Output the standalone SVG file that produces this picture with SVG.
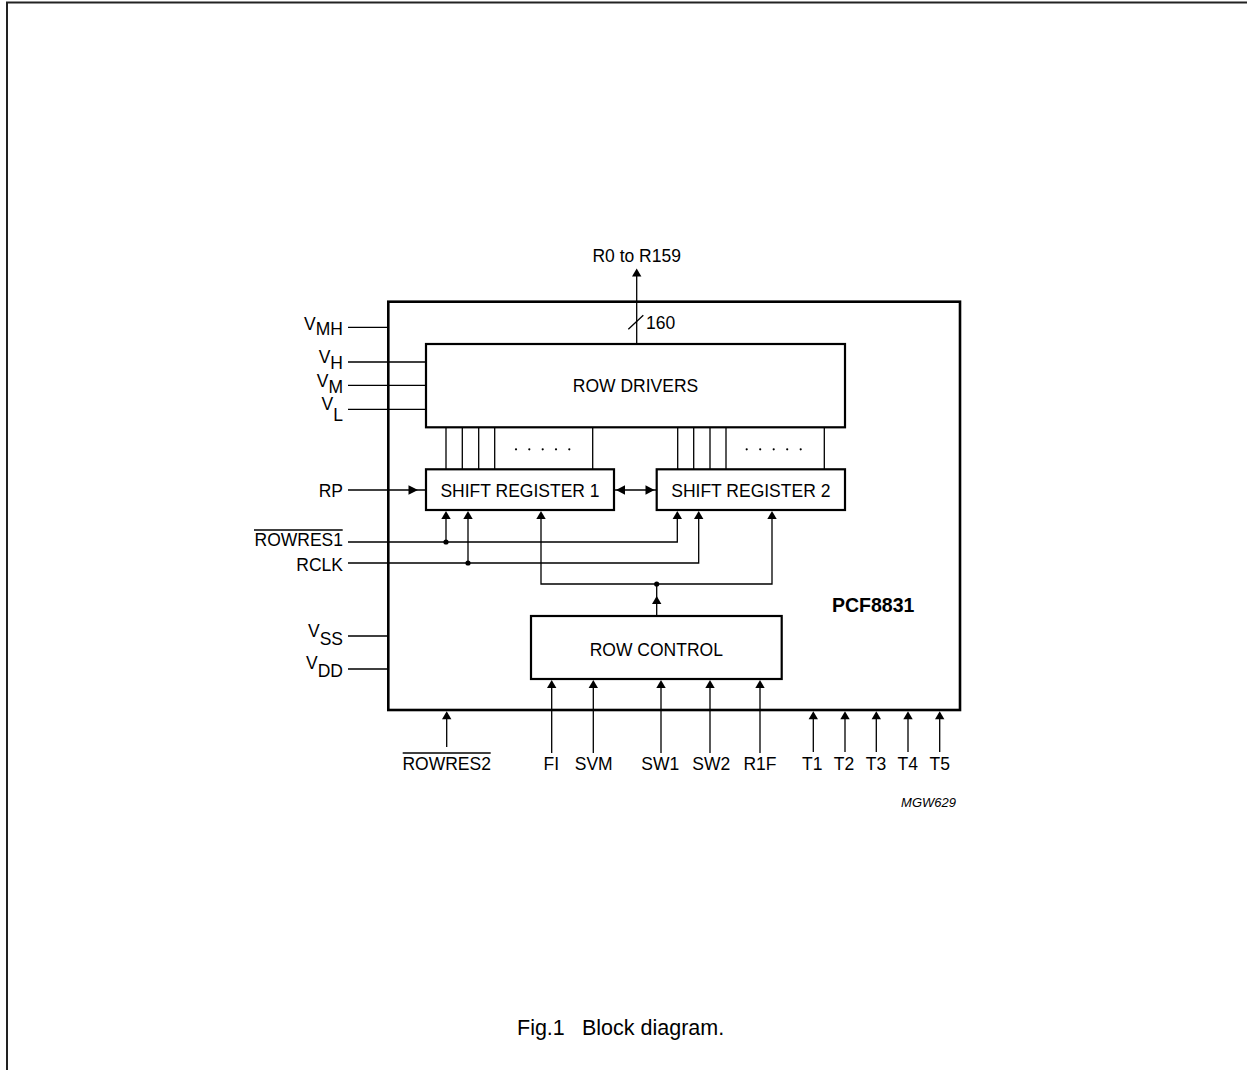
<svg xmlns="http://www.w3.org/2000/svg" width="1247" height="1070" viewBox="0 0 1247 1070">
<style>
text{font-family:"Liberation Sans",Arial,sans-serif;font-size:17.5px;fill:#000}
.box{fill:#fff;stroke:#000;stroke-width:2.2}
.outer{fill:none;stroke:#000;stroke-width:2.6}
.w{fill:none;stroke:#000;stroke-width:1.3}
.ah{fill:#000;stroke:none}
.mid{text-anchor:middle}
.end{text-anchor:end}
</style>
<defs>
<path id="up" d="M0,0 L-4.7,8 L4.7,8 Z"/>
</defs>
<g id="frame"><path d="M7,1070 V2.5 H1247" fill="none" stroke="#222" stroke-width="2"/></g>
<g id="chip"><rect class="outer" x="388.3" y="301.7" width="571.7" height="408.3"/><text x="832" y="611.7" style="font-weight:bold;font-size:19.5px">PCF8831</text></g>
<g id="row-drivers"><rect class="box" x="426" y="344" width="419" height="83.3"/><text class="mid" x="635.5" y="391.5">ROW DRIVERS</text></g>
<g id="shift-register-1"><rect class="box" x="426" y="469.3" width="188" height="40.7"/><text class="mid" x="520" y="496.5">SHIFT REGISTER 1</text></g>
<g id="shift-register-2"><rect class="box" x="656.7" y="469.3" width="188.3" height="40.7"/><text class="mid" x="750.8" y="496.5">SHIFT REGISTER 2</text></g>
<g id="row-control"><rect class="box" x="531" y="616" width="250.7" height="63"/><text class="mid" x="656.3" y="655.7">ROW CONTROL</text></g>
<g id="connectors">
<path class="w" d="M636.7,344 V276"/><use href="#up" class="ah" x="636.7" y="268.5"/>
<path class="w" d="M628.3,329.3 L643.3,315.3"/>
<path class="w" d="M348,327.3 H388.3 M348,362 H426 M348,385.3 H426 M348,409.3 H426 M348,636 H388.3 M348,669 H388.3"/>
<path class="w" d="M446,427.3 V469.3 M462.3,427.3 V469.3 M478.7,427.3 V469.3 M494.7,427.3 V469.3 M592.7,427.3 V469.3 M677.7,427.3 V469.3 M693.7,427.3 V469.3 M710,427.3 V469.3 M726,427.3 V469.3 M824.3,427.3 V469.3"/>
<g class="ah"><circle cx="516" cy="449.3" r="1.1"/><circle cx="529.3" cy="449.3" r="1.1"/><circle cx="542.7" cy="449.3" r="1.1"/><circle cx="556" cy="449.3" r="1.1"/><circle cx="569.3" cy="449.3" r="1.1"/><circle cx="746.7" cy="449.3" r="1.1"/><circle cx="760.2" cy="449.3" r="1.1"/><circle cx="773.7" cy="449.3" r="1.1"/><circle cx="787.2" cy="449.3" r="1.1"/><circle cx="800.7" cy="449.3" r="1.1"/></g>
<path class="w" d="M348,490 H426"/><path class="ah" d="M418,490 L408.5,485.3 L408.5,494.7 Z"/>
<path class="w" d="M614,490 H656.7"/><path class="ah" d="M616,490 L625,485.3 L625,494.7 Z M654.5,490 L645.5,485.3 L645.5,494.7 Z"/>
<path class="w" d="M348,542 H677.3 V518 M446,542 V518"/>
<path class="w" d="M348,563 H698.7 V518 M468,563 V518"/>
<path class="w" d="M656.7,616 V584 M541,518 V584 H772 V518"/>
<use href="#up" class="ah" x="446" y="511"/><use href="#up" class="ah" x="468" y="511"/><use href="#up" class="ah" x="541" y="511"/>
<use href="#up" class="ah" x="677.3" y="511"/><use href="#up" class="ah" x="698.7" y="511"/><use href="#up" class="ah" x="772" y="511"/>
<use href="#up" class="ah" x="656.7" y="596"/>
<circle class="ah" cx="446" cy="542" r="2.6"/><circle class="ah" cx="468" cy="563" r="2.6"/><circle class="ah" cx="656.7" cy="584" r="2.6"/>
<path class="w" d="M551.7,753 V688 M593.3,753 V688 M661,753 V688 M710,753 V688 M760,753 V688"/>
<use href="#up" class="ah" x="551.7" y="680"/><use href="#up" class="ah" x="593.3" y="680"/><use href="#up" class="ah" x="661" y="680"/><use href="#up" class="ah" x="710" y="680"/><use href="#up" class="ah" x="760" y="680"/>
<path class="w" d="M446.7,747 V719 M813.3,752 V719 M845,752 V719 M876.3,752 V719 M908,752 V719 M939.7,752 V719"/>
<use href="#up" class="ah" x="446.7" y="711.3"/><use href="#up" class="ah" x="813.3" y="711.3"/><use href="#up" class="ah" x="845" y="711.3"/><use href="#up" class="ah" x="876.3" y="711.3"/><use href="#up" class="ah" x="908" y="711.3"/><use href="#up" class="ah" x="939.7" y="711.3"/>
</g>
<g id="labels">
<text class="mid" x="636.7" y="262">R0 to R159</text>
<text x="646" y="329">160</text>
<text class="end" x="343" y="330">V<tspan dy="5">MH</tspan></text>
<text class="end" x="343" y="362.7">V<tspan dy="6.6">H</tspan></text>
<text class="end" x="343" y="386.7">V<tspan dy="6.6">M</tspan></text>
<text class="end" x="343" y="410">V<tspan dy="11">L</tspan></text>
<text class="end" x="343" y="496.7">RP</text>
<text class="end" x="343" y="546">ROWRES1</text>
<path class="w" d="M254,530 H342.7"/>
<text class="end" x="343" y="571">RCLK</text>
<text class="end" x="343" y="636.7">V<tspan dy="8.3">SS</tspan></text>
<text class="end" x="343" y="669.3">V<tspan dy="8">DD</tspan></text>
<text class="mid" x="446.7" y="770">ROWRES2</text>
<path class="w" d="M402.7,753 H490.7"/>
<text class="mid" x="551.3" y="770">FI</text>
<text class="mid" x="593.7" y="770">SVM</text>
<text class="mid" x="660.3" y="770">SW1</text>
<text class="mid" x="711.3" y="770">SW2</text>
<text class="mid" x="760" y="770">R1F</text>
<text class="mid" x="812.2" y="770">T1</text>
<text class="mid" x="844" y="770">T2</text>
<text class="mid" x="876" y="770">T3</text>
<text class="mid" x="907.7" y="770">T4</text>
<text class="mid" x="939.7" y="770">T5</text>
<text class="end" x="956" y="807" style="font-size:13px;font-style:italic">MGW629</text>
<text x="517" y="1035" style="font-size:21.5px">Fig.1</text>
<text x="582" y="1035" style="font-size:21.5px">Block diagram.</text>
</g>
</svg>
